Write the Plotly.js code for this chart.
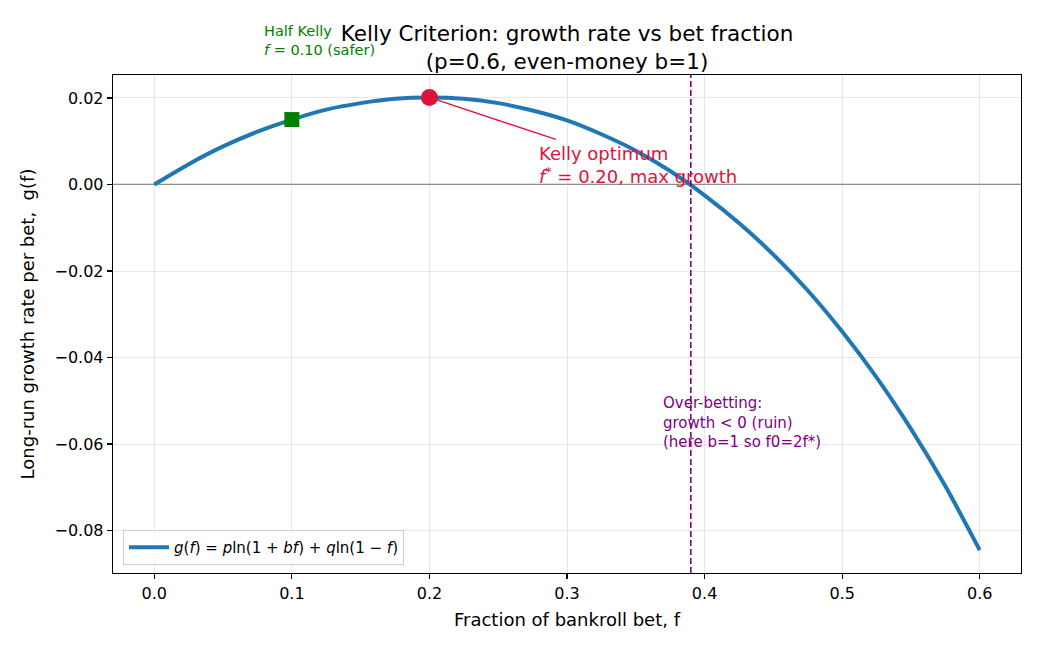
<!DOCTYPE html>
<html>
<head>
<meta charset="utf-8">
<script src="https://cdn.plot.ly/plotly-3.0.1.min.js"></script>
<style>
  html, body { margin: 0; padding: 0; background: #ffffff; }
  #chart { width: 1040px; height: 650px; }
</style>
</head>
<body>
<div id="chart"></div>
<script>
// Bet fraction f and long-run growth per bet g(f), p = 0.6, b = 1
const betFraction = [0.000, 0.025, 0.050, 0.075, 0.100, 0.125, 0.150, 0.175, 0.200,
                     0.225, 0.250, 0.275, 0.300, 0.325, 0.350, 0.375, 0.400, 0.425,
                     0.450, 0.475, 0.500, 0.525, 0.550, 0.575, 0.600];
const growthRate = [0.0000, 0.0047, 0.0088, 0.0122, 0.0150, 0.0173, 0.0188, 0.0198, 0.0201,
                    0.0198, 0.0188, 0.0171, 0.0148, 0.0116, 0.0078, 0.0031, -0.0025, -0.0089,
                    -0.0162, -0.0245, -0.0340, -0.0446, -0.0565, -0.0697, -0.0845];

// Highlighted points: full Kelly and half Kelly
const kellyF = [0.20];
const kellyG = [0.0201];
const halfKellyF = [0.10];
const halfKellyG = [0.0150];

// Break-even fraction where growth turns negative
const breakEvenF = 0.39;

const FONT = "DejaVu Sans, Liberation Sans, sans-serif";

const traces = [
  {
    x: betFraction, y: growthRate,
    type: "scatter", mode: "lines",
    line: { color: "#1f77b4", width: 4, shape: "spline", smoothing: 0.6 },
    name: "<i>g</i>(<i>f</i>) = <i>p</i>ln(1 + <i>bf</i>) + <i>q</i>ln(1 − <i>f</i>)",
    hoverinfo: "x+y"
  },
  {
    x: halfKellyF, y: halfKellyG,
    type: "scatter", mode: "markers",
    marker: { color: "#008000", symbol: "square", size: 15 },
    showlegend: false
  },
  {
    x: kellyF, y: kellyG,
    type: "scatter", mode: "markers",
    marker: { color: "#dc143c", symbol: "circle", size: 17 },
    showlegend: false
  }
];

const layout = {
  width: 1040, height: 650,
  margin: { l: 113, r: 19, t: 75, b: 77 },
  paper_bgcolor: "#ffffff", plot_bgcolor: "#ffffff",
  font: { family: FONT, size: 16, color: "#000000" },
  title: {
    text: "Kelly Criterion: growth rate vs bet fraction<br>(p=0.6, even-money b=1)",
    font: { family: FONT, size: 21.5, color: "#000000" },
    xref: "paper", x: 0.5, xanchor: "center",
    yref: "container", y: 0.937, yanchor: "top"
  },
  xaxis: {
    range: [-0.03, 0.63],
    tickvals: [0, 0.1, 0.2, 0.3, 0.4, 0.5, 0.6],
    tickformat: ".1f",
    ticks: "outside", ticklen: 5, tickwidth: 1.2, tickcolor: "#000000",
    showline: true, mirror: true, linecolor: "#000000", linewidth: 1.3,
    showgrid: true, gridcolor: "rgba(176,176,176,0.3)", gridwidth: 1,
    zeroline: false,
    tickfont: { family: FONT, size: 16 },
    title: { text: "Fraction of bankroll bet, f", font: { family: FONT, size: 18 }, standoff: 12 }
  },
  yaxis: {
    range: [-0.0898, 0.0253],
    tickvals: [-0.08, -0.06, -0.04, -0.02, 0.00, 0.02],
    tickformat: ".2f",
    ticks: "outside", ticklen: 5, tickwidth: 1.2, tickcolor: "#000000",
    showline: true, mirror: true, linecolor: "#000000", linewidth: 1.3,
    showgrid: true, gridcolor: "rgba(176,176,176,0.3)", gridwidth: 1,
    zeroline: false,
    tickfont: { family: FONT, size: 16 },
    title: { text: "Long-run growth rate per bet,\u00a0 g(f)", font: { family: FONT, size: 18 }, standoff: 15 }
  },
  shapes: [
    { type: "line", xref: "paper", x0: 0, x1: 1, yref: "y", y0: 0, y1: 0,
      line: { color: "#808080", width: 1.3 }, layer: "below" },
    { type: "line", xref: "x", x0: breakEvenF, x1: breakEvenF, yref: "paper", y0: 0, y1: 1,
      line: { color: "#800080", width: 1.6, dash: "6px,3px" } }
  ],
  annotations: [
    { xref: "x", yref: "y", x: kellyF[0], y: kellyG[0],
      axref: "x", ayref: "y", ax: 0.293, ay: 0.0103,
      text: "", showarrow: true, arrowhead: 1, arrowsize: 1.2, arrowwidth: 1.3,
      arrowcolor: "#dc143c", standoff: 3 },
    { xref: "x", yref: "y", x: 0.2785, y: 0.0044,
      xanchor: "left", yanchor: "middle", align: "left", showarrow: false,
      text: "Kelly optimum<br><i>f</i><sup>*</sup> = 0.20, max growth",
      font: { family: FONT, size: 18, color: "#dc143c" } },
    { xref: "x", yref: "paper", x: 0.0785, y: 1.069,
      xanchor: "left", yanchor: "middle", align: "left", showarrow: false,
      text: "Half Kelly<br><i>f</i> = 0.10 (safer)",
      font: { family: FONT, size: 14.5, color: "#008000" } },
    { xref: "x", yref: "y", x: 0.368, y: -0.0551,
      xanchor: "left", yanchor: "middle", align: "left", showarrow: false,
      text: "Over-betting:<br>growth &lt; 0 (ruin)<br>(here b=1 so f0=2f*)",
      font: { family: FONT, size: 15, color: "#800080" } }
  ],
  legend: {
    x: 0.011, y: 0.016, xanchor: "left", yanchor: "bottom",
    bgcolor: "rgba(255,255,255,0.8)", bordercolor: "#cccccc", borderwidth: 1,
    itemwidth: 40,
    font: { family: FONT, size: 15 }
  },
  showlegend: true
};

Plotly.newPlot("chart", traces, layout, { displayModeBar: false, staticPlot: true });
</script>
</body>
</html>
